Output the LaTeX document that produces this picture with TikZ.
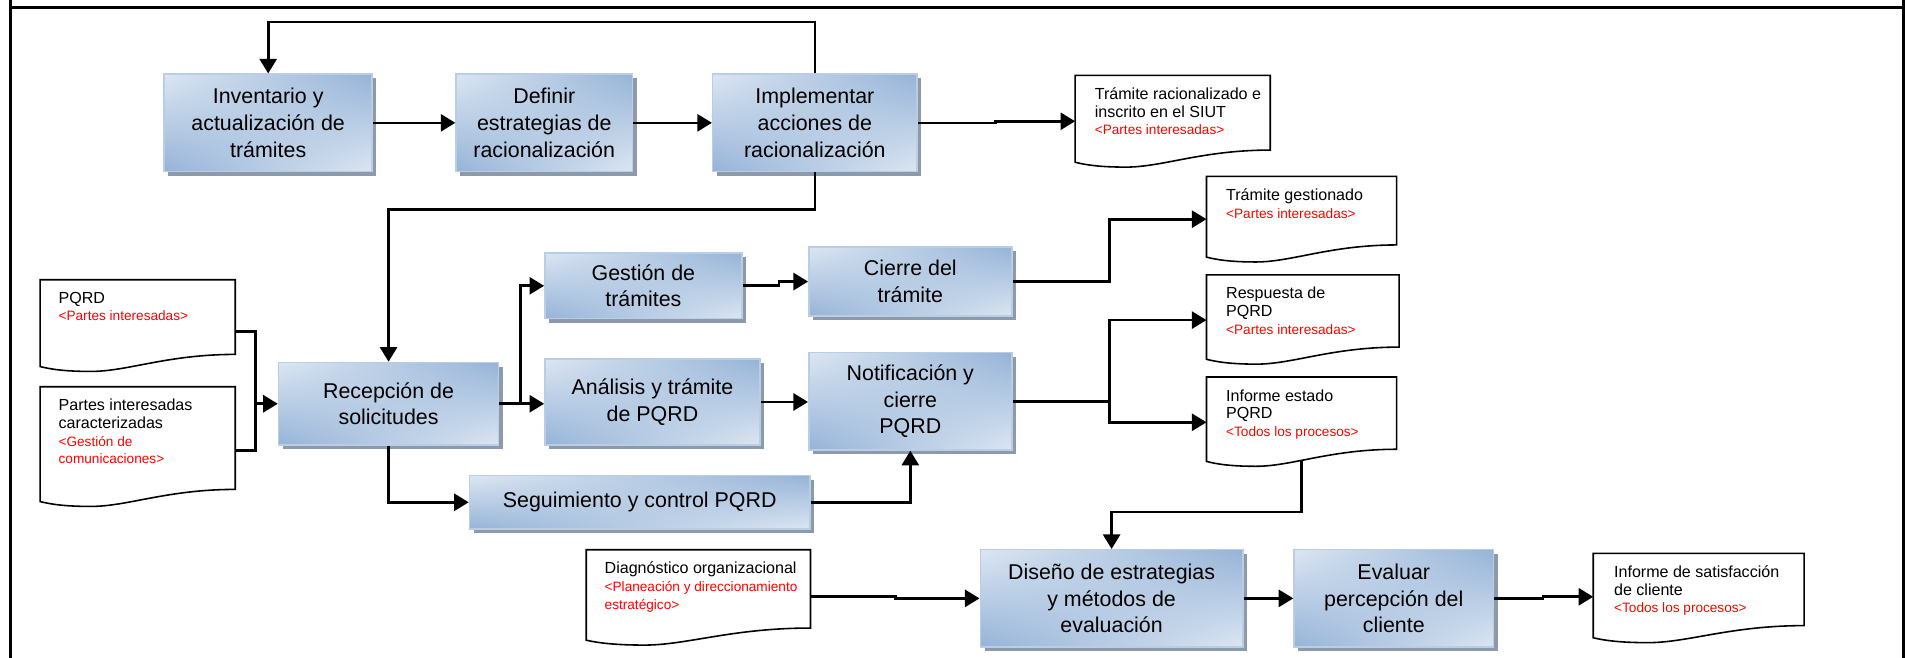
\documentclass[tikz,border=0pt]{standalone}
\usepackage{fontspec}
\setmainfont{Liberation Sans}
\usetikzlibrary{positioning,calc,shadows,shadings,arrows.meta}

\definecolor{boxdark}{HTML}{95B3D7}
\definecolor{boxlight}{HTML}{DCE6F2}
\definecolor{boxedge}{HTML}{B9CDE5}
\definecolor{boxshadow}{HTML}{8C9AAB}
\definecolor{ownerred}{HTML}{FF0000}

\newcommand{\owner}[1]{{\color{ownerred}\fontsize{11.2}{13}\selectfont #1}}

\begin{document}
\begin{tikzpicture}[x=1pt, y=-1pt,
  proc/.style={rectangle, shade, draw=boxedge, line width=1.2pt,
    upper left=boxlight, upper right=boxdark, lower left=boxdark, lower right=boxlight,
    drop shadow={shadow xshift=3.5pt, shadow yshift=-3.5pt, fill=boxshadow, opacity=1},
    align=center, inner sep=2pt, font=\fontsize{17.6}{22}\selectfont},
  docbox/.style={rectangle, anchor=north west, inner sep=0pt},
  doctxt/.style={align=left, inner sep=0pt, font=\fontsize{13.2}{14.5}\selectfont},
  docline/.style={line width=1.3pt},
  frame/.style={line width=2.4pt},
  line/.style={line width=2.2pt},
  conn/.style={line width=2.2pt, -{Triangle[length=12pt, width=14pt]}}
]

\useasboundingbox (0,0) rectangle (1568,541);

% 1. Frame
\draw[frame] (9,0) -- (9,541);
\draw[frame] (1565,0) -- (1565,541);
\draw[frame] (9,6) -- (1565,6);

% 2. Process boxes
\node[proc, minimum width=171pt, minimum height=80pt] (inv) at (220.5,101) {Inventario y\\actualización de\\trámites};
\node[proc, minimum width=145pt, minimum height=80pt] (def) at (447.5,101) {Definir\\estrategias de\\racionalización};
\node[proc, minimum width=168pt, minimum height=80pt] (impl) at (670,101) {Implementar\\acciones de\\racionalización};
\node[proc, minimum width=181pt, minimum height=68pt] (recep) at (319.5,332) {Recepción de\\solicitudes};
\node[proc, minimum width=162pt, minimum height=54pt] (gest) at (529,235) {Gestión de\\trámites};
\node[proc, minimum width=177pt, minimum height=71pt] (anal) at (536.5,330.5) {Análisis y trámite\\de PQRD};
\node[proc, minimum width=167pt, minimum height=57pt] (cierre) at (748.5,231.5) {Cierre del\\trámite};
\node[proc, minimum width=167pt, minimum height=80pt] (notif) at (748.5,330) {Notificación y\\cierre\\PQRD};
\node[proc, minimum width=280pt, minimum height=44pt] (seg) at (526,413) {Seguimiento y control PQRD};
\node[proc, minimum width=216pt, minimum height=80pt] (dis) at (914,492) {Diseño de estrategias\\y métodos de\\evaluación};
\node[proc, minimum width=164pt, minimum height=80pt] (eval) at (1146,492) {Evaluar\\percepción del\\cliente};

% 3. Documents
\node[docbox, minimum width=160pt, minimum height=61pt] (doc1) at (884,62) {};
\node[docbox, minimum width=156pt, minimum height=56pt] (docG) at (992,145) {};
\node[docbox, minimum width=158pt, minimum height=59pt] (docR) at (992,226) {};
\node[docbox, minimum width=156pt, minimum height=59pt] (docI) at (992,310) {};
\node[docbox, minimum width=160pt, minimum height=61pt] (docP) at (33,230) {};
\node[docbox, minimum width=160pt, minimum height=84pt] (docC) at (33,318) {};
\node[docbox, minimum width=184pt, minimum height=64pt] (docD) at (482,452) {};
\node[docbox, minimum width=173pt, minimum height=59pt] (docS) at (1310,455) {};

\foreach \d in {doc1,docG,docR,docI,docP,docC,docD,docS}
  \draw[docline] let \p1=(\d.south west), \p2=(\d.north east), \n1={\x2-\x1} in
    (\x1,\y2) -- (\x2,\y2) -- (\x2,\y1)
    .. controls (\x2-0.35*\n1,\y1) and (\x1+0.45*\n1,\y1-14pt) .. (\x1+0.26*\n1,\y1-14pt)
    .. controls (\x1+0.12*\n1,\y1-14pt) and (\x1+0.05*\n1,\y1-12pt) .. (\x1,\y1-10pt) -- cycle;

% 4. Document texts
\node[doctxt, below right=10pt and 16pt of doc1.north west] (doc1t) {Trámite racionalizado e\\inscrito en el SIUT\\\owner{<Partes interesadas>}};
\node[doctxt, below right=10pt and 16pt of docG.north west] (docGt) {Trámite gestionado\\\owner{<Partes interesadas>}};
\node[doctxt, below right=10pt and 16pt of docR.north west] (docRt) {Respuesta de\\PQRD\\\owner{<Partes interesadas>}};
\node[doctxt, below right=10pt and 16pt of docI.north west] (docIt) {Informe estado\\PQRD\\\owner{<Todos los procesos>}};
\node[doctxt, below right=10pt and 15pt of docP.north west] (docPt) {PQRD\\\owner{<Partes interesadas>}};
\node[doctxt, below right=10pt and 15pt of docC.north west] (docCt) {Partes interesadas\\caracterizadas\\\owner{<Gestión de}\\\owner{comunicaciones>}};
\node[doctxt, below right=10pt and 15pt of docD.north west] (docDt) {Diagnóstico organizacional\\\owner{<Planeación y direccionamiento}\\\owner{estratégico>}};
\node[doctxt, below right=10pt and 17pt of docS.north west] (docSt) {Informe de satisfacción\\de cliente\\\owner{<Todos los procesos>}};

% 5. Connectors, top row
\coordinate (loopY) at (0,18);
\coordinate (midY) at (0,172);
\draw[conn] (impl.north) -- (impl.north |- loopY) -| (inv.north);
\draw[conn] (inv) -- (def);
\draw[conn] (def) -- (impl);
\draw[conn] (impl.east) -- ++(64,0) |- ([yshift=-7pt]doc1.west);
\draw[conn] (impl.south) -- (impl.south |- midY) -| (recep.north);

% 6. Connectors, requests
\coordinate (j1) at (210,332);
\coordinate (j2) at (428,332);
\coordinate (j3) at (912,0);
\draw[line] ([yshift=-12pt]docP.east) -| (j1) |- ([yshift=-10pt]docC.east);
\draw[conn] (j1) -- (j1 -| recep.west);
\draw[conn] (recep.east) -- (j2) |- (gest.west);
\draw[conn] (j2) -- (j2 -| anal.west);
\draw[conn] (gest.east) -- ++(30,0) |- (cierre.west);
\draw[conn] (anal.east) -- (anal.east -| notif.west);
\draw[conn] (recep.south) |- (seg.west);
\draw[conn] (seg.east) -| (notif.south);
\draw[conn] (cierre.east) -- (cierre.east -| j3) |- ([yshift=-7pt]docG.west);
\draw[conn] (notif.east) -- (notif.east -| j3) |- ([yshift=-7.5pt]docR.west);
\draw[conn] (notif.east -| j3) |- ([yshift=-7.5pt]docI.west);

% 7. Connectors, evaluation
\coordinate (j4) at (0,412);
\draw[conn] ([yshift=-9pt]docI.south) -- ([yshift=-9pt]docI.south |- j4) -| (dis.north);
\draw[conn] ([yshift=-6pt]docD.east) -- ++(70,0) |- (dis.west);
\draw[conn] (dis) -- (eval);
\draw[conn] (eval.east) -- ++(40,0) |- ([yshift=-6pt]docS.west);

\end{tikzpicture}
\end{document}
